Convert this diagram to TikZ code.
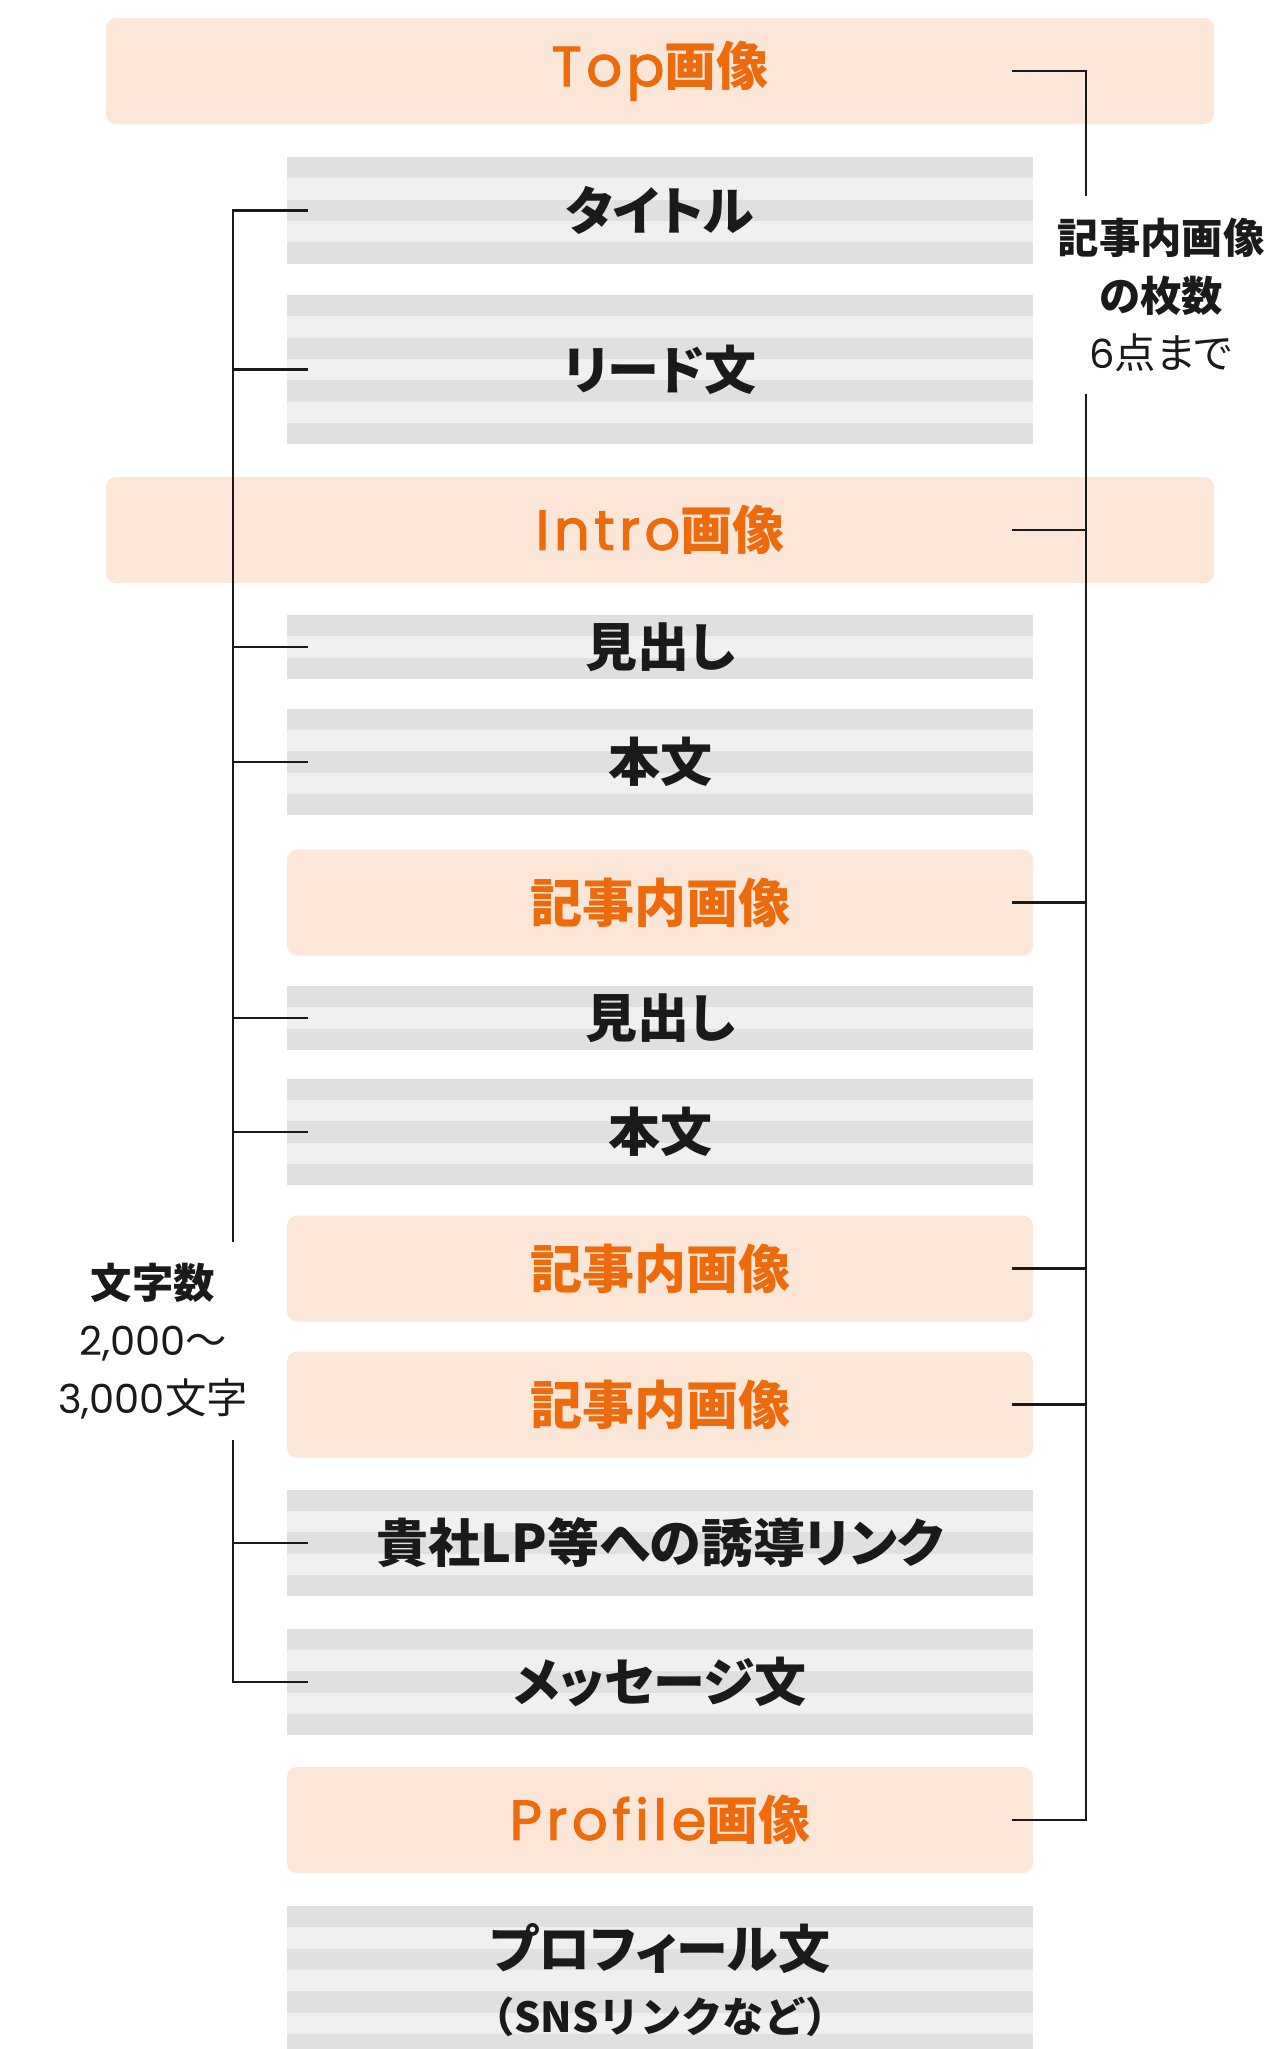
\documentclass[tikz,border=0pt]{standalone}
\usepackage{fontspec}
\setmainfont{Noto Sans CJK JP}[RawFeature=+palt]
\newfontfamily\latinfont{Poppins}[LetterSpace=8, FakeBold=2]
\newfontfamily\digitfont{Poppins}
\newcommand{\lat}[1]{{\latinfont\mdseries\fontsize{42}{42}\selectfont #1}}
\newcommand{\dig}[1]{{\digitfont\fontsize{30}{43}\selectfont #1}}
\definecolor{imgfill}{HTML}{FCE6D7}
\definecolor{imgtext}{HTML}{ED6B0C}
\definecolor{stripedark}{HTML}{E0E0E0}
\definecolor{stripelight}{HTML}{F0F0F0}
\definecolor{ink}{HTML}{1A1A1A}
\tikzset{
  mainfont/.style={font=\fontsize{39}{39}\selectfont\bfseries},
  imgbox/.style={rounded corners=7.5pt, fill=imgfill, inner sep=0pt, outer sep=0pt,
    text=imgtext, mainfont, minimum height=79.5pt},
  bigimg/.style={imgbox, minimum width=831pt},
  smallimg/.style={imgbox, minimum width=559.5pt},
  stripebox/.style={fill=stripelight, inner sep=0pt, outer sep=0pt, text=ink, mainfont,
    minimum width=559.5pt, minimum height=#1*16pt,
    path picture={
      \foreach \k in {0,2,...,10}{
        \fill[stripedark] ([yshift=-\k*16pt]path picture bounding box.north west)
          rectangle ([yshift=-\k*16pt-16pt]path picture bounding box.north east);
      }
    }},
  bline/.style={draw=ink, line width=1.9pt, line join=miter},
  sidelabel/.style={text=ink, align=center, inner sep=0pt,
    font=\fontsize{31}{43}\selectfont},
}
\begin{document}
\begin{tikzpicture}[x=0.75pt,y=-0.75pt]
\useasboundingbox (0,0) rectangle (1275,2049);
\fill[white] (0,0) rectangle (1275,2049);

% boxes
\node[bigimg] (top) at (660,71) {\lat{Top}画像};
\node[stripebox=5] (title) at (660,210.3) {タイトル};
\node[stripebox=7] (lead) at (660,369.7) {リード文};
\node[bigimg] (intro) at (660,530) {\lat{Intro}画像};
\node[stripebox=3] (mid1) at (660,647) {見出し};
\node[stripebox=5] (body1) at (660,762) {本文};
\node[smallimg] (img1) at (660,902.5) {記事内画像};
\node[stripebox=3] (mid2) at (660,1018) {見出し};
\node[stripebox=5] (body2) at (660,1132) {本文};
\node[smallimg] (img2) at (660,1268.5) {記事内画像};
\node[smallimg] (img3) at (660,1404.5) {記事内画像};
\node[stripebox=5] (link) at (660,1543) {貴社LP等への誘導リンク};
\node[stripebox=5] (msg) at (660,1682) {メッセージ文};
\node[smallimg] (prof) at (660,1820) {\lat{Profile}画像};
\node[stripebox=7] (proftext) at (660,1980.7) {};
\node[text=ink, mainfont, inner sep=0pt] (proft1) at (660,1949) {プロフィール文};
\node[text=ink, font=\fontsize{31}{31}\selectfont\bfseries, inner sep=0pt] (proft2) at (660,2017)
  {\addfontfeature{RawFeature=-palt}（SNSリンクなど）};

% side labels
\node[sidelabel] (rlabel) at (1161,295) {{\bfseries 記事内画像}\\{\bfseries の枚数}\\\dig{6}点まで};
\node[sidelabel] (llabel) at (153,1341) {{\bfseries 文字数}\\\dig{2,000}～\\\dig{3,000}文字};

% bracket coordinates
\coordinate (lx) at (233,0);
\coordinate (lt) at (308,0);
\coordinate (rx) at (1086,0);
\coordinate (rt) at (1012,0);
\coordinate (lgapT) at (233,1242);
\coordinate (lgapB) at (233,1440);
\coordinate (rgapT) at (1086,196);
\coordinate (rgapB) at (1086,394);

% left bracket
\draw[bline] (title.center -| lt) -- (title.center -| lx) -- (lgapT);
\foreach \n in {lead,mid1,body1,mid2,body2,link}
  \draw[bline] (\n.center -| lt) -- (\n.center -| lx);
\draw[bline] (lgapB) -- (msg.center -| lx) -- (msg.center -| lt);

% right bracket
\draw[bline] (top.center -| rt) -- (top.center -| rx) -- (rgapT);
\foreach \n in {intro,img1,img2,img3}
  \draw[bline] (\n.center -| rt) -- (\n.center -| rx);
\draw[bline] (rgapB) -- (prof.center -| rx) -- (prof.center -| rt);
\end{tikzpicture}
\end{document}
